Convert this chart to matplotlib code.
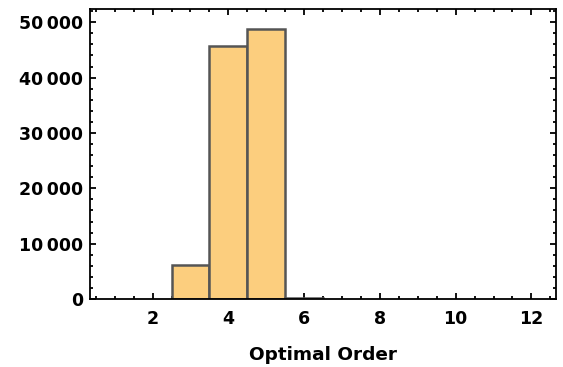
import matplotlib
matplotlib.use("Agg")
import matplotlib.pyplot as plt
from matplotlib.ticker import MultipleLocator, FuncFormatter

orders = [3, 4, 5, 6]
counts = [6150, 45700, 48750, 250]
xlabel = "Optimal Order"

plt.rcParams['font.family'] = ['DejaVu Sans']
plt.rcParams['font.weight'] = 'bold'

fig = plt.figure(figsize=(5.63, 3.67), dpi=100)
ax = fig.add_axes([0.160, 0.1853, 0.8276, 0.7902])

ax.bar(orders, counts, width=1.0, color='#FCCE7E', edgecolor='#555555', linewidth=1.8, zorder=2)

ax.set_xlim(0.35, 12.65)
ax.set_ylim(0, 52400)

ax.xaxis.set_major_locator(MultipleLocator(2))
ax.xaxis.set_minor_locator(MultipleLocator(0.5))
ax.yaxis.set_major_locator(MultipleLocator(10000))
ax.yaxis.set_minor_locator(MultipleLocator(2000))

def fmt(v, pos):
    v = int(round(v))
    if v >= 10000:
        s = f"{v:,}".replace(",", "\u2009")
        return s
    return str(v)
ax.yaxis.set_major_formatter(FuncFormatter(fmt))
ax.set_xticks([2, 4, 6, 8, 10, 12])

ax.tick_params(which='both', direction='in', top=True, right=True, width=1.3, colors='black',
               labelsize=12.5)
ax.tick_params(axis='y', pad=5)
ax.tick_params(axis='x', pad=8)
ax.tick_params(which='major', length=4.5)
ax.tick_params(which='minor', length=2.5)
for lab in ax.get_xticklabels() + ax.get_yticklabels():
    lab.set_fontweight('bold')
for s in ax.spines.values():
    s.set_linewidth(1.3)
    s.set_color('black')

ax.set_xlabel(xlabel, fontsize=13.3, fontweight='bold', labelpad=13)

fig.savefig("out.png", dpi=100)
